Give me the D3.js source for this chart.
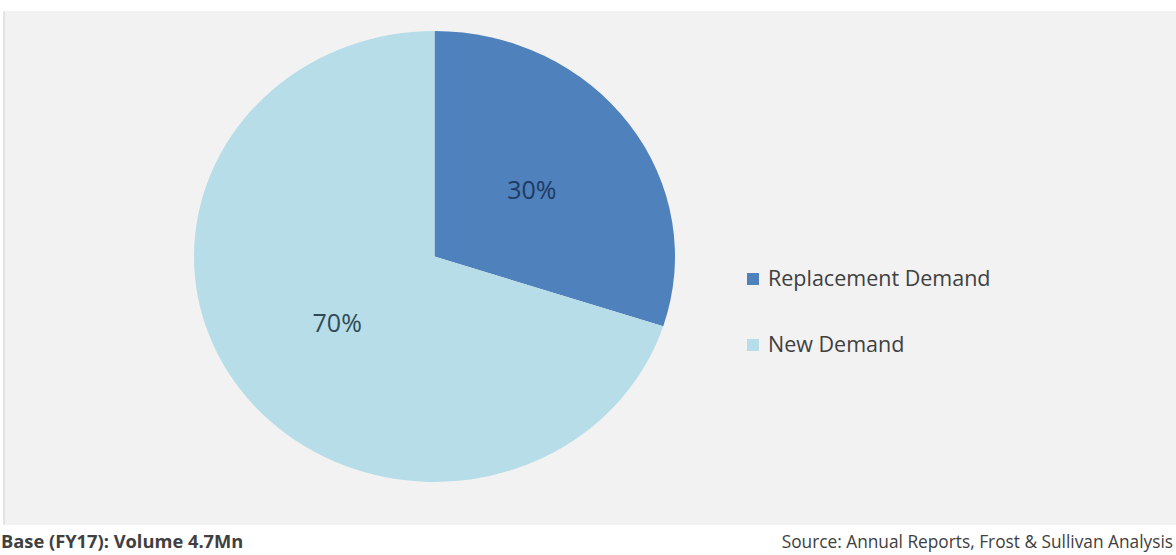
<!DOCTYPE html>
<html>
<head>
<meta charset="utf-8">
<script src="https://cdn.jsdelivr.net/npm/d3@7"></script>
<style>
  html, body { margin: 0; padding: 0; background: #ffffff; }
  svg { display: block; }
</style>
</head>
<body>
<svg id="chart" width="1176" height="555"></svg>
<script>
const categories = ["Replacement Demand", "New Demand"];
const values = [30, 70];
const labels = ["30%", "70%"];
const colors = ["#4f81bd", "#b7dde8"];
const footLeft = "Base (FY17): Volume 4.7Mn";
const footRight = "Source: Annual Reports, Frost & Sullivan Analysis";

const W = 1176, H = 555;
const svg = d3.select("#chart");
const font = "'Open Sans', 'DejaVu Sans', sans-serif";

// panel
svg.append("rect").attr("x", 3).attr("y", 11).attr("width", W - 3).attr("height", 514).attr("fill", "#f2f2f2");
svg.append("line").attr("x1", 4).attr("x2", 4).attr("y1", 11).attr("y2", 525).attr("stroke", "#e4e4e4").attr("stroke-width", 2);

// pie
const cx = 434.5, cy = 256.5, rx = 240.5, ry = 225.5;
const pie = d3.pie().sort(null).value(d => d);
const arcs = pie(values);
const arc = d3.arc().innerRadius(0).outerRadius(ry);
const g = svg.append("g").attr("transform", `translate(${cx},${cy}) scale(${rx / ry},1)`);
g.selectAll("path").data(arcs).join("path")
  .attr("d", arc)
  .attr("fill", (d, i) => colors[i]);

// labels
const labelArc = d3.arc().innerRadius(ry * 0.5).outerRadius(ry * 0.5);
const labelColors = ["#1f3a63", "#2f4b58"];
svg.selectAll("text.lbl").data(arcs).join("text")
  .attr("class", "lbl")
  .attr("x", d => cx + labelArc.centroid(d)[0] * rx / ry)
  .attr("y", d => cy + labelArc.centroid(d)[1] + 9)
  .attr("text-anchor", "middle")
  .attr("font-family", font)
  .attr("font-size", 25)
  .attr("fill", (d, i) => labelColors[i])
  .text((d, i) => labels[i]);

// legend
const legY = [286, 352];
const leg = svg.selectAll("g.leg").data(categories).join("g")
  .attr("class", "leg")
  .attr("transform", (d, i) => `translate(747,${legY[i]})`);
leg.append("rect").attr("x", 0).attr("y", -13).attr("width", 12).attr("height", 12)
  .attr("fill", (d, i) => colors[i]);
leg.append("text").attr("x", 21).attr("y", 0)
  .attr("font-family", font).attr("font-size", 21.5).attr("fill", "#404040")
  .text(d => d);

// footer
svg.append("text").attr("x", 1).attr("y", 548)
  .attr("font-family", font).attr("font-size", 18.3).attr("font-weight", "bold").attr("fill", "#404040")
  .text(footLeft);
svg.append("text").attr("x", 1173).attr("y", 548).attr("text-anchor", "end")
  .attr("font-family", font).attr("font-size", 17.3).attr("fill", "#404040")
  .text(footRight);
</script>
</body>
</html>
